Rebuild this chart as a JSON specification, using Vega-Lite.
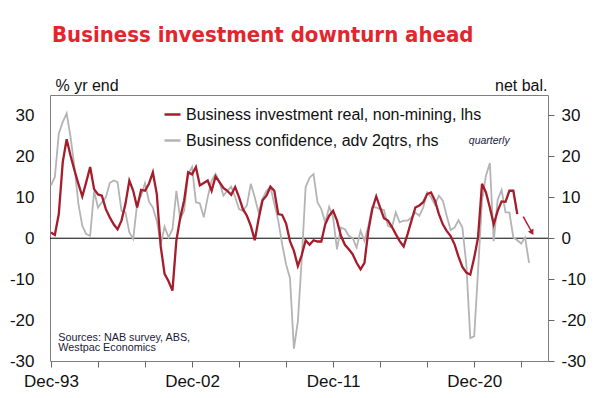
{
  "$schema": "https://vega.github.io/schema/vega-lite/v6.json",
  "width": 498,
  "height": 266,
  "autosize": "none",
  "padding": {"left": 50, "top": 95, "right": 52, "bottom": 37},
  "background": "white",
  "title": {
    "text": "Business investment downturn ahead",
    "anchor": "start",
    "frame": "group",
    "font": "DejaVu Sans Condensed, Liberation Sans, sans-serif",
    "fontSize": 22,
    "fontWeight": "bold",
    "color": "#e3262e",
    "offset": 30,
    "dx": 2
  },
  "config": {
    "view": {"stroke": "#7f7f7f", "strokeWidth": 1},
    "font": "Liberation Sans",
    "axis": {
      "grid": false,
      "domain": false,
      "labelFont": "Liberation Sans",
      "labelFontSize": 17,
      "labelColor": "#111111",
      "titleFont": "Liberation Sans",
      "titleFontSize": 16,
      "titleFontWeight": "normal",
      "titleColor": "#111111",
      "tickColor": "#666666"
    }
  },
  "data": {
    "values": [
      {"date": "1993-12", "inv": 1.4, "conf": 12.9},
      {"date": "1994-03", "inv": 0.8, "conf": 14.9},
      {"date": "1994-06", "inv": 5.9, "conf": 25.6},
      {"date": "1994-09", "inv": 18.6, "conf": 28.4},
      {"date": "1994-12", "inv": 24.2, "conf": 30.5},
      {"date": "1995-03", "inv": 20.2, "conf": 24.8},
      {"date": "1995-06", "inv": 16.6, "conf": 17.4},
      {"date": "1995-09", "inv": 13.3, "conf": 8.4},
      {"date": "1995-12", "inv": 10.2, "conf": 3},
      {"date": "1996-03", "inv": 13.7, "conf": 1},
      {"date": "1996-06", "inv": 17.4, "conf": 0.6},
      {"date": "1996-09", "inv": 12, "conf": 11.5},
      {"date": "1996-12", "inv": 10.7, "conf": 7.5},
      {"date": "1997-03", "inv": 10.4, "conf": 8.8},
      {"date": "1997-06", "inv": 7.1, "conf": 10},
      {"date": "1997-09", "inv": 5.1, "conf": 13.5},
      {"date": "1997-12", "inv": 3.4, "conf": 14.1},
      {"date": "1998-03", "inv": 2.2, "conf": 13.7},
      {"date": "1998-06", "inv": 4.3, "conf": 6.7},
      {"date": "1998-09", "inv": 8.4, "conf": 6.3},
      {"date": "1998-12", "inv": 14.1, "conf": 1.4},
      {"date": "1999-03", "inv": 11.6, "conf": -0.2},
      {"date": "1999-06", "inv": 7.5, "conf": 8.5},
      {"date": "1999-09", "inv": 11.8, "conf": 10.4},
      {"date": "1999-12", "inv": 11.6, "conf": 13.5},
      {"date": "2000-03", "inv": 13.3, "conf": 9},
      {"date": "2000-06", "inv": 16.1, "conf": 7.5},
      {"date": "2000-09", "inv": 10.8, "conf": 4.3},
      {"date": "2000-12", "inv": -2, "conf": -1.5},
      {"date": "2001-03", "inv": -8.7, "conf": 2.8},
      {"date": "2001-06", "inv": -10.5, "conf": 0.2},
      {"date": "2001-09", "inv": -12.8, "conf": 2.2},
      {"date": "2001-12", "inv": -0.5, "conf": 11.6},
      {"date": "2002-03", "inv": 5, "conf": 4.7},
      {"date": "2002-06", "inv": 9.3, "conf": 6.7},
      {"date": "2002-09", "inv": 16.1, "conf": 15.7},
      {"date": "2002-12", "inv": 15.6, "conf": 17.4},
      {"date": "2003-03", "inv": 17.4, "conf": 8.8},
      {"date": "2003-06", "inv": 12.9, "conf": 8.5},
      {"date": "2003-09", "inv": 13.5, "conf": 5.1},
      {"date": "2003-12", "inv": 14.1, "conf": 10},
      {"date": "2004-03", "inv": 11.6, "conf": 14.1},
      {"date": "2004-06", "inv": 15.1, "conf": 15.7},
      {"date": "2004-09", "inv": 13.7, "conf": 13.7},
      {"date": "2004-12", "inv": 12.3, "conf": 10.4},
      {"date": "2005-03", "inv": 11.6, "conf": 11.6},
      {"date": "2005-06", "inv": 10.6, "conf": 12.6},
      {"date": "2005-09", "inv": 12.5, "conf": 10},
      {"date": "2005-12", "inv": 10, "conf": 7.1},
      {"date": "2006-03", "inv": 7.1, "conf": 6.7},
      {"date": "2006-06", "inv": 5.5, "conf": 8},
      {"date": "2006-09", "inv": 3, "conf": 13.3},
      {"date": "2006-12", "inv": -0.5, "conf": 10},
      {"date": "2007-03", "inv": 4.7, "conf": 6.3},
      {"date": "2007-06", "inv": 9.3, "conf": 9.6},
      {"date": "2007-09", "inv": 10.4, "conf": 11.6},
      {"date": "2007-12", "inv": 12.6, "conf": 12.5},
      {"date": "2008-03", "inv": 11.6, "conf": 8.4},
      {"date": "2008-06", "inv": 5.9, "conf": 4.3},
      {"date": "2008-09", "inv": 5.7, "conf": -1.5},
      {"date": "2008-12", "inv": 3.6, "conf": -6.4},
      {"date": "2009-03", "inv": -0.7, "conf": -9.7},
      {"date": "2009-06", "inv": -3.1, "conf": -27},
      {"date": "2009-09", "inv": -6.8, "conf": -20.3},
      {"date": "2009-12", "inv": -4.1, "conf": -5},
      {"date": "2010-03", "inv": -0.5, "conf": 12.5},
      {"date": "2010-06", "inv": -1.6, "conf": 14.8},
      {"date": "2010-09", "inv": -0.5, "conf": 15.7},
      {"date": "2010-12", "inv": -0.8, "conf": 8.8},
      {"date": "2011-03", "inv": -0.8, "conf": 7.1},
      {"date": "2011-06", "inv": 3.4, "conf": 3.9},
      {"date": "2011-09", "inv": 5.5, "conf": 7.7},
      {"date": "2011-12", "inv": 6.7, "conf": 5.1},
      {"date": "2012-03", "inv": 4.3, "conf": -2.7},
      {"date": "2012-06", "inv": 0.6, "conf": 2.6},
      {"date": "2012-09", "inv": -1.6, "conf": 2.2},
      {"date": "2012-12", "inv": -2.7, "conf": 0.6},
      {"date": "2013-03", "inv": -3.9, "conf": 0},
      {"date": "2013-06", "inv": -6, "conf": -2.3},
      {"date": "2013-09", "inv": -7.6, "conf": 1.8},
      {"date": "2013-12", "inv": -6, "conf": -0.7},
      {"date": "2014-03", "inv": 1.8, "conf": 3},
      {"date": "2014-06", "inv": 7.1, "conf": 7.7},
      {"date": "2014-09", "inv": 10.2, "conf": 7.5},
      {"date": "2014-12", "inv": 7.5, "conf": 7.1},
      {"date": "2015-03", "inv": 4.9, "conf": 6.9},
      {"date": "2015-06", "inv": 4.3, "conf": 3},
      {"date": "2015-09", "inv": 2.8, "conf": 2.6},
      {"date": "2015-12", "inv": 1, "conf": 6.3},
      {"date": "2016-03", "inv": -0.7, "conf": 3.9},
      {"date": "2016-06", "inv": -2, "conf": 4.3},
      {"date": "2016-09", "inv": 1, "conf": 4.3},
      {"date": "2016-12", "inv": 4.3, "conf": 5.1},
      {"date": "2017-03", "inv": 7.5, "conf": 6.3},
      {"date": "2017-06", "inv": 8, "conf": 5.5},
      {"date": "2017-09", "inv": 8.8, "conf": 7.5},
      {"date": "2017-12", "inv": 10.8, "conf": 11.2},
      {"date": "2018-03", "inv": 11.2, "conf": 10},
      {"date": "2018-06", "inv": 9.2, "conf": 8.2},
      {"date": "2018-09", "inv": 5.9, "conf": 10.4},
      {"date": "2018-12", "inv": 3.4, "conf": 9.2},
      {"date": "2019-03", "inv": 1.8, "conf": 5.5},
      {"date": "2019-06", "inv": 0.5, "conf": 2},
      {"date": "2019-09", "inv": -1.5, "conf": 2.6},
      {"date": "2019-12", "inv": -4.5, "conf": 4.4},
      {"date": "2020-03", "inv": -7, "conf": 2.6},
      {"date": "2020-06", "inv": -8.4, "conf": -6.4},
      {"date": "2020-09", "inv": -8.9, "conf": -24.4},
      {"date": "2020-12", "inv": -4.8, "conf": -24},
      {"date": "2021-03", "inv": 0.2, "conf": -8},
      {"date": "2021-06", "inv": 13.3, "conf": 9.2},
      {"date": "2021-09", "inv": 11.2, "conf": 15.3},
      {"date": "2021-12", "inv": 7.5, "conf": 18.4},
      {"date": "2022-03", "inv": 3.4, "conf": -0.7},
      {"date": "2022-06", "inv": 6.7, "conf": 9.4},
      {"date": "2022-09", "inv": 9, "conf": 11.8},
      {"date": "2022-12", "inv": 8.9, "conf": 6.3},
      {"date": "2023-03", "inv": 11.6, "conf": 6.3},
      {"date": "2023-06", "inv": 11.6, "conf": 0.2},
      {"date": "2023-09", "inv": 5.9, "conf": -0.5},
      {"date": "2023-12", "conf": -1.3},
      {"date": "2024-03", "conf": 0.2},
      {"date": "2024-06", "conf": -6}
    ]
  },
  "resolve": {"scale": {"y": "independent"}},
  "layer": [
    {
      "data": {"values": [{}]},
      "mark": {"type": "rule", "color": "#000000", "strokeWidth": 1},
      "encoding": {
        "y": {
          "datum": 0,
          "type": "quantitative",
          "scale": {"domain": [-30, 35]},
          "axis": {
            "orient": "right",
            "values": [-30, -20, -10, 0, 10, 20, 30],
            "labelExpr": "'' + datum.value",
            "ticks": true,
            "tickSize": 6,
            "labelPadding": 7,
            "labelAlign": "left",
            "title": "net bal.",
            "titleAngle": 0,
            "titleAlign": "right",
            "titleBaseline": "alphabetic",
            "titleX": -1,
            "titleY": -5
          }
        }
      }
    },
    {
      "mark": {"type": "line", "strokeWidth": 1.8},
      "encoding": {
        "x": {
          "field": "date",
          "type": "temporal",
          "title": null,
          "scale": {
            "type": "utc",
            "domain": [
              {"year": 1993, "month": 11, "date": 8, "utc": true},
              {"year": 2025, "month": 8, "date": 17, "utc": true}
            ]
          },
          "axis": {
            "values": [
              {"year": 1993, "month": 12, "date": 1, "utc": true},
              {"year": 1996, "month": 12, "date": 1, "utc": true},
              {"year": 1999, "month": 12, "date": 1, "utc": true},
              {"year": 2002, "month": 12, "date": 1, "utc": true},
              {"year": 2005, "month": 12, "date": 1, "utc": true},
              {"year": 2008, "month": 12, "date": 1, "utc": true},
              {"year": 2011, "month": 12, "date": 1, "utc": true},
              {"year": 2014, "month": 12, "date": 1, "utc": true},
              {"year": 2017, "month": 12, "date": 1, "utc": true},
              {"year": 2020, "month": 12, "date": 1, "utc": true},
              {"year": 2023, "month": 12, "date": 1, "utc": true}
            ],
            "labelExpr": "indexof([1993, 2002, 2011, 2020], utcyear(datum.value)) >= 0 ? utcFormat(datum.value, '%b-%y') : ''",
            "tickSize": 6,
            "labelPadding": 6,
            "labelFlush": false,
            "labelOverlap": false
          }
        },
        "y": {
          "field": "conf",
          "type": "quantitative",
          "scale": {"domain": [-30, 35]},
          "axis": null
        },
        "color": {
          "datum": "Business confidence, adv 2qtrs, rhs",
          "type": "nominal",
          "scale": {
            "domain": ["Business investment real, non-mining, lhs", "Business confidence, adv 2qtrs, rhs"],
            "range": ["#a51c2a", "#b4b4b4"]
          },
          "legend": {
            "orient": "none",
            "legendX": 113,
            "legendY": 10,
            "title": null,
            "symbolType": "stroke",
            "symbolSize": 256,
            "symbolStrokeWidth": 2.5,
            "labelFont": "Liberation Sans",
            "labelFontSize": 16,
            "labelColor": "#111111",
            "labelOffset": 4,
            "labelLimit": 400,
            "rowPadding": 8,
            "padding": 0
          }
        }
      }
    },
    {
      "mark": {"type": "line", "strokeWidth": 2.3},
      "encoding": {
        "x": {"field": "date", "type": "temporal", "title": null},
        "y": {
          "field": "inv",
          "type": "quantitative",
          "scale": {"domain": [-30, 35]},
          "axis": {
            "orient": "left",
            "values": [-30, -20, -10, 0, 10, 20, 30],
            "labelExpr": "'' + datum.value",
            "ticks": false,
            "labelPadding": 16,
            "title": "% yr end",
            "titleAngle": 0,
            "titleAlign": "left",
            "titleBaseline": "alphabetic",
            "titleX": 5,
            "titleY": -5
          }
        },
        "color": {"datum": "Business investment real, non-mining, lhs", "type": "nominal"}
      }
    },
    {
      "data": {"values": [{}]},
      "mark": {"type": "rule", "color": "#b01c2c", "strokeWidth": 1.5},
      "encoding": {
        "x": {"datum": {"year": 2024, "month": 1, "date": 18, "utc": true}, "type": "temporal", "title": null},
        "x2": {"datum": {"year": 2024, "month": 8, "date": 10, "utc": true}},
        "y": {"datum": 5.3, "type": "quantitative", "scale": {"domain": [-30, 35]}, "axis": null},
        "y2": {"datum": 1.4}
      }
    },
    {
      "data": {"values": [{}]},
      "mark": {"type": "point", "shape": "triangle-up", "filled": true, "color": "#b01c2c", "size": 40, "angle": 151, "opacity": 1},
      "encoding": {
        "x": {"datum": {"year": 2024, "month": 8, "date": 10, "utc": true}, "type": "temporal", "title": null},
        "y": {"datum": 1.4, "type": "quantitative", "scale": {"domain": [-30, 35]}, "axis": null}
      }
    },
    {
      "data": {"values": [{}]},
      "mark": {"type": "text", "text": "quarterly", "font": "Liberation Sans", "fontSize": 10.5, "fontStyle": "italic", "color": "#1a1a3a", "align": "center", "baseline": "alphabetic"},
      "encoding": {
        "x": {"datum": {"year": 2021, "month": 11, "date": 17, "utc": true}, "type": "temporal", "title": null},
        "y": {"datum": 23, "type": "quantitative", "scale": {"domain": [-30, 35]}, "axis": null}
      }
    },
    {
      "data": {"values": [{}]},
      "mark": {"type": "text", "text": ["Sources:  NAB survey, ABS,", "Westpac Economics"], "font": "Liberation Sans", "fontSize": 10.8, "lineHeight": 10.7, "color": "#1a1a3a", "align": "left", "baseline": "alphabetic"},
      "encoding": {
        "x": {"datum": {"year": 1994, "month": 5, "date": 20, "utc": true}, "type": "temporal", "title": null},
        "y": {"datum": -25, "type": "quantitative", "scale": {"domain": [-30, 35]}, "axis": null}
      }
    }
  ]
}
